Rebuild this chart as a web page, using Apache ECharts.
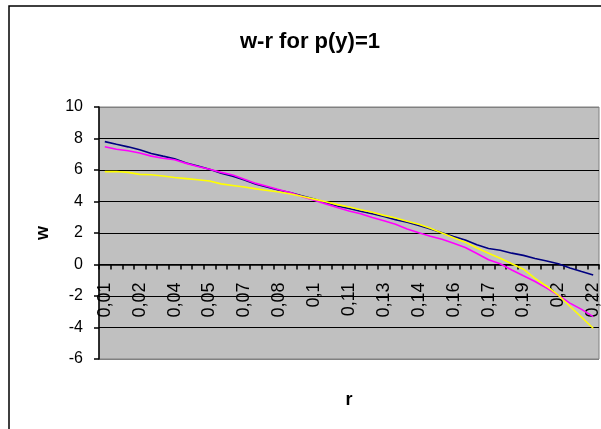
<!DOCTYPE html>
<html>
<head>
<meta charset="utf-8">
<script src="https://cdn.jsdelivr.net/npm/echarts@6/dist/echarts.min.js"></script>
<style>
html,body{margin:0;padding:0;background:#fff;}
#chart{width:601px;height:429px;}
</style>
</head>
<body>
<div id="chart"></div>
<script>
// r categories (0.01 .. 0.22 step 0.005), shown as Excel displayed them
var categories = [
  "0,01","0,015","0,02","0,02","0,03","0,035","0,04","0,045","0,05","0,05",
  "0,06","0,065","0,07","0,075","0,08","0,08","0,09","0,095","0,1","0,105",
  "0,11","0,11","0,12","0,125","0,13","0,135","0,14","0,14","0,15","0,155",
  "0,16","0,165","0,17","0,17","0,18","0,185","0,19","0,195","0,2","0,2",
  "0,21","0,215","0,22"
];
var seriesNavy = [
  7.80,7.63,7.47,7.28,7.05,6.88,6.72,6.45,6.25,6.05,
  5.80,5.60,5.37,5.10,4.90,4.72,4.55,4.35,4.15,3.92,
  3.72,3.55,3.38,3.22,3.05,2.85,2.68,2.48,2.25,2.02,
  1.77,1.55,1.25,1.02,0.90,0.72,0.58,0.38,0.22,0.05,
  -0.22,-0.45,-0.67
];
var seriesMagenta = [
  7.48,7.32,7.22,7.08,6.88,6.75,6.65,6.42,6.22,6.05,
  5.85,5.68,5.42,5.15,4.95,4.75,4.55,4.30,4.08,3.85,
  3.62,3.40,3.22,2.98,2.78,2.55,2.25,2.02,1.80,1.60,
  1.35,1.08,0.70,0.30,0.05,-0.35,-0.72,-1.08,-1.50,-1.95,
  -2.45,-2.85,-3.31
];
var seriesYellow = [
  5.90,5.90,5.85,5.72,5.70,5.62,5.52,5.45,5.38,5.30,
  5.12,5.02,4.92,4.80,4.70,4.60,4.48,4.32,4.15,3.98,
  3.80,3.65,3.48,3.32,3.12,2.95,2.75,2.55,2.30,2.00,
  1.70,1.42,1.05,0.72,0.40,0.05,-0.30,-0.88,-1.38,-1.95,
  -2.65,-3.35,-4.05
];
var yMin = -6, yMax = 10, yStep = 2;

var chart = echarts.init(document.getElementById('chart'));
var font = 'Arial, "Liberation Sans", sans-serif';
function line(data, color) {
  return {
    type: 'line', data: data, symbol: 'none', smooth: false, xAxisIndex: 0,
    lineStyle: {color: color, width: 1.6}, itemStyle: {color: color}, z: 5
  };
}
// plot area: top 107, bottom 359 -> 0 lies 94.5px above the bottom edge
var zeroOffset = -(359 - 107) * (0 - yMin) / (yMax - yMin);
chart.setOption({
  animation: false,
  backgroundColor: '#ffffff',
  title: {
    text: 'w-r for p(y)=1',
    left: 235, top: 26,
    textStyle: {fontFamily: font, fontSize: 22, fontWeight: 'bold', color: '#000'}
  },
  graphic: [{
    type: 'rect', z: -10,
    shape: {x: 9, y: 6, width: 640, height: 460},
    style: {fill: 'none', stroke: '#000', lineWidth: 1.5}
  }],
  grid: {
    left: 99, top: 107, right: 2, bottom: 70,
    containLabel: false, outerBoundsMode: 'none',
    show: true, backgroundColor: '#c0c0c0', borderColor: '#808080', borderWidth: 1
  },
  xAxis: [{
    type: 'category', data: categories, boundaryGap: true,
    axisLine: {onZero: true, lineStyle: {color: '#000', width: 1.5}},
    axisTick: {show: true, interval: 0, length: 5, lineStyle: {color: '#000', width: 1.5}},
    axisLabel: {show: false},
    splitLine: {show: false}
  }, {
    type: 'category', data: categories, boundaryGap: true,
    position: 'bottom', offset: zeroOffset,
    name: 'r', nameLocation: 'middle', nameGap: 127, nameMoveOverlap: false,
    nameTextStyle: {fontFamily: font, fontSize: 18, fontWeight: 'bold', color: '#000'},
    axisLine: {show: false, onZero: false},
    axisTick: {show: false},
    axisLabel: {interval: 2, rotate: 90, margin: 18, fontFamily: font, fontSize: 18, color: '#000'},
    splitLine: {show: false}
  }],
  yAxis: {
    type: 'value', min: yMin, max: yMax, interval: yStep,
    name: 'w', nameLocation: 'middle', nameRotate: 90, nameGap: 47,
    nameTextStyle: {fontFamily: font, fontSize: 18, fontWeight: 'bold', color: '#000'},
    axisLine: {show: true, lineStyle: {color: '#000', width: 1.5}},
    axisTick: {show: true, length: 5, lineStyle: {color: '#000', width: 1.5}},
    axisLabel: {margin: 16, fontFamily: font, fontSize: 16, color: '#000'},
    splitLine: {show: true, lineStyle: {color: ['#808080','#000','#000','#000','#000','#000','#000','#000','#808080'], width: 1.2}}
  },
  series: [
    line(seriesNavy, '#000080'),
    line(seriesMagenta, '#ff00ff'),
    line(seriesYellow, '#ffff00')
  ]
});
</script>
</body>
</html>
